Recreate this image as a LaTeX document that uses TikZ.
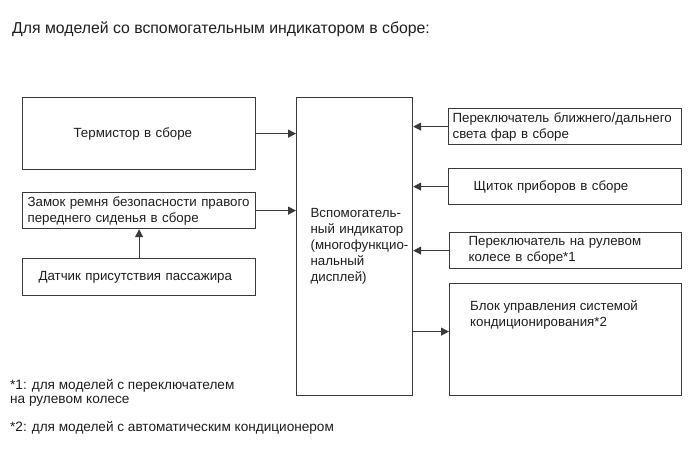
\documentclass[tikz,border=0pt]{standalone}
\usepackage{fontspec}
\setmainfont{Liberation Sans}
\usetikzlibrary{arrows.meta}
\definecolor{linegray}{HTML}{3A3A3A}
\definecolor{textblack}{HTML}{1E1E1E}
\tikzset{
  box/.style={draw=linegray, line width=1.2pt, anchor=north west, align=left,
    inner ysep=0pt, text=textblack, font=\fontsize{13.3}{16}\selectfont},
  plain/.style={anchor=north west, align=left, inner sep=0pt, text=textblack,
    font=\fontsize{13.3}{16}\selectfont},
  note/.style={anchor=base west, align=left, inner sep=0pt, text=textblack,
    font=\fontsize{13.6}{14}\selectfont},
  link/.style={draw=linegray, line width=1.2pt, -{Triangle[length=8pt,width=8pt]}}
}
\begin{document}
\begin{tikzpicture}[x=1pt,y=-1pt]
  \useasboundingbox (0,0) rectangle (691,465);
  %titolo
  \node[note, font=\fontsize{15.8}{18}\selectfont] (title) at (12,33.5) {Для моделей со вспомогательным индикатором в сборе:};
  %blocchi a sinistra
  \node[box, text width=131pt, inner xsep=51pt, minimum height=72pt] (therm) at (22,97) {Термистор в сборе};
  \node[box, text width=223pt, inner xsep=5pt, minimum height=36pt] (belt) at (22,192) {Замок~ремня~безопасности~правого\\переднего~сиденья~в~сборе};
  \node[box, text width=201pt, inner xsep=16pt, minimum height=37pt] (sensor) at (22,258) {Датчик~присутствия~пассажира};
  %indicatore
  \node[box, text width=88pt, inner xsep=14pt, minimum height=298pt] (disp) at (296,97) {\mbox{Вспомогатель-}\\ный~индикатор\\\mbox{(многофункцио-}\\нальный\\дисплей)};
  %blocchi a destra
  \node[box, text width=225pt, inner xsep=4pt, minimum height=36pt] (head) at (448,108) {Переключатель~ближнего/дальнего\\света~фар~в~сборе};
  \node[box, text width=183pt, inner xsep=25pt, minimum height=36pt] (panel) at (448,168) {Щиток~приборов~в~сборе};
  \node[box, text width=194pt, inner xsep=19pt, minimum height=36pt] (steer) at (449,232) {Переключатель~на~рулевом\\колесе~в~сборе*1};
  \node[box, minimum width=232pt, minimum height=112pt] (ac) at (449,283) {};
  \node[plain] (actext) at ([xshift=21pt,yshift=-17pt]ac.north west) {Блок управления системой\\кондиционирования*2};
  %collegamenti
  \draw[link] (therm.east) -- (therm.east -| disp.west);
  \draw[link] (belt.east) -- (belt.east -| disp.west);
  \draw[link] (sensor.north) -- (belt.south);
  \draw[link] (head.west) -- (head.west -| disp.east);
  \draw[link] (panel.west) -- (panel.west -| disp.east);
  \draw[link] (steer.west) -- (steer.west -| disp.east);
  \draw[link] ([yshift=8pt]ac.west -| disp.east) -- ([yshift=8pt]ac.west);
  %note
  \node[note] (note1) at (10,403) {*1: для моделей с переключателем\\на рулевом колесе};
  \node[note] (note2) at (10,431) {*2: для моделей с автоматическим кондиционером};
\end{tikzpicture}
\end{document}
